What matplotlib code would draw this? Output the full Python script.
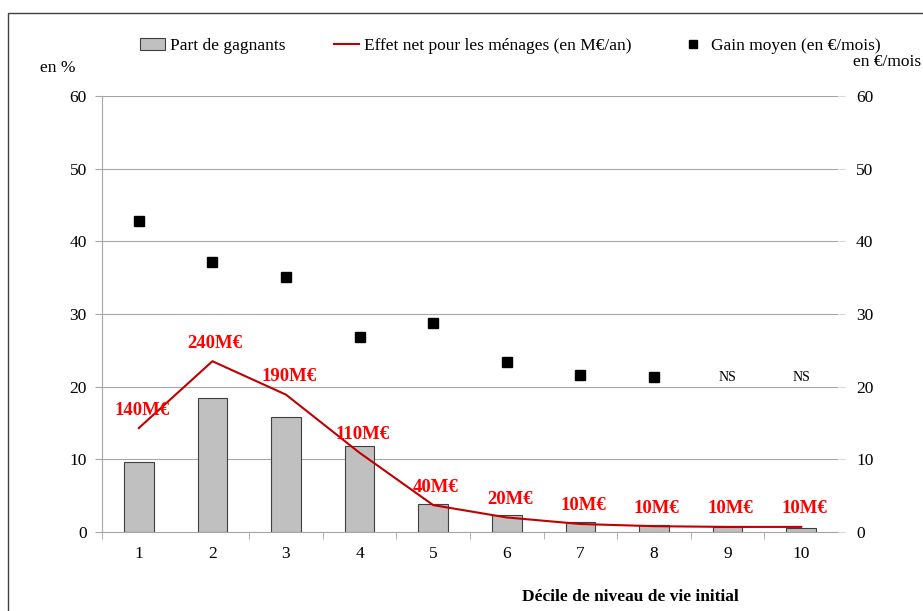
import matplotlib
matplotlib.use("Agg")
import matplotlib.pyplot as plt
from matplotlib.patches import Patch, Rectangle
from matplotlib.lines import Line2D
import numpy as np

# data
deciles = [1, 2, 3, 4, 5, 6, 7, 8, 9, 10]
part_gagnants = [9.6, 18.4, 15.8, 11.8, 3.8, 2.4, 1.4, 1.0, 0.7, 0.6]
effet_net_line = [14.3, 23.5, 18.9, 10.9, 3.7, 2.0, 1.1, 0.8, 0.7, 0.7]
effet_net_labels = ["140M€", "240M€", "190M€", "110M€", "40M€", "20M€",
                    "10M€", "10M€", "10M€", "10M€"]
gain_deciles = [1, 2, 3, 4, 5, 6, 7, 8]
gain_moyen = [42.8, 37.1, 35.1, 26.9, 28.8, 23.4, 21.6, 21.3]
ns_deciles = [9, 10]
ns_level = [21.3, 21.3]
yticks = [0, 10, 20, 30, 40, 50, 60]

plt.rcParams['font.family'] = ['Liberation Serif', 'DejaVu Serif']
plt.rcParams['font.size'] = 12.5

fig = plt.figure(figsize=(9.23, 6.11), dpi=100)
ax = fig.add_axes([102/923, 1-532/611, (838-102)/923, (532-96)/611])

grid_col = "#a6a6a6"
ax.bar(deciles, part_gagnants, width=0.4, color="#c0c0c0", edgecolor="#404040",
       linewidth=0.8, zorder=2)
ax.plot(deciles, effet_net_line, color="#c00000", lw=1.5, zorder=3)
for x, y, lab in zip(deciles, effet_net_line, effet_net_labels):
    ax.annotate(lab, (x, y), xytext=(2, 13), textcoords="offset points",
                ha="center", va="center", color="#ff0000", fontweight="bold",
                fontsize=13.5, zorder=4)

ax.set_xlim(0.5, 10.5)
ax.set_ylim(0, 60)
ax.set_yticks(yticks)
ax.yaxis.grid(True, color=grid_col, lw=0.8)
ax.set_axisbelow(True)
for s in ["top", "right"]:
    ax.spines[s].set_visible(False)
ax.spines["left"].set_color(grid_col)
ax.spines["bottom"].set_color(grid_col)
ax.set_xticks(deciles)
ax.set_xticks([0.5] + list(np.arange(2.5, 10.5, 1)), minor=True)
ax.tick_params(axis="x", which="major", length=0, pad=10)
ax.tick_params(axis="x", which="minor", length=5, color=grid_col, direction="out")
ax.tick_params(axis="y", length=5, color=grid_col, pad=6)

ax2 = ax.twinx()
ax2.set_ylim(0, 60)
ax2.set_yticks(yticks)
ax2.plot(gain_deciles, gain_moyen, "s", color="black", ms=6.5, zorder=5)
for x, y in zip(ns_deciles, ns_level):
    ax2.text(x, y, "NS", ha="center", va="center", fontsize=10)
for s in ["top", "right", "left", "bottom"]:
    ax2.spines[s].set_visible(False)
ax2.tick_params(axis="y", length=5, color="#d9d9d9", pad=8)

fig.text(40/923, 1-68/611, "en %", ha="left", va="center")
fig.text(853/923, 1-62/611, "en €/mois", ha="left", va="center")
fig.text(630/923, 1-597/611, "Décile de niveau de vie initial", ha="center",
         va="center", fontweight="bold")

handles = [Patch(facecolor="#c0c0c0", edgecolor="#404040", lw=0.8),
           Line2D([], [], color="#c00000", lw=1.5),
           Line2D([], [], marker="s", ls="", color="black", ms=6)]
labels = ["Part de gagnants", "Effet net pour les ménages (en M€/an)",
          "Gain moyen (en €/mois)"]
fig.legend(handles, labels, loc="center", bbox_to_anchor=(510/923, 1-46/611),
           ncol=3, frameon=False, handlelength=1.45, handletextpad=0.3,
           columnspacing=2.8)

fig.add_artist(Rectangle((8/923, -0.05), 1.0, 1-13/611+0.05,
                         transform=fig.transFigure, fill=False,
                         edgecolor="#404040", lw=1))

fig.savefig("out.png", dpi=100)
